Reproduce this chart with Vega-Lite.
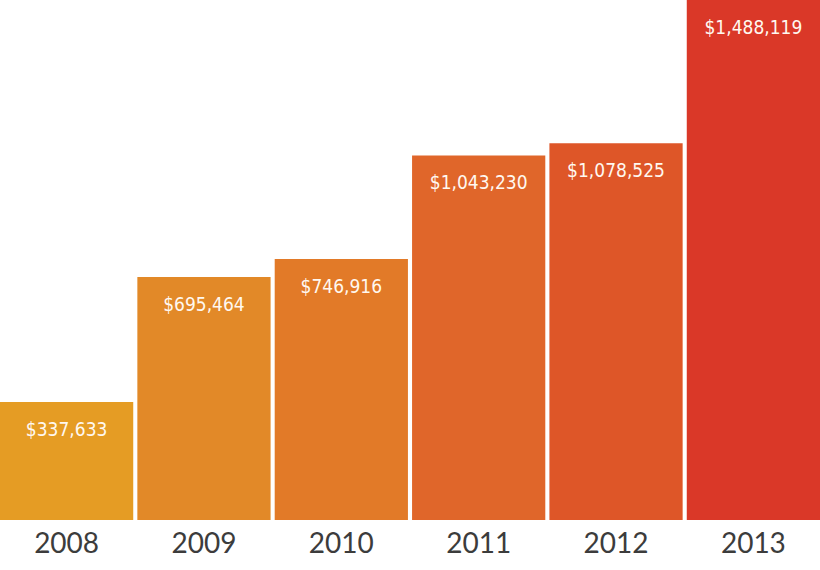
{
  "$schema": "https://vega.github.io/schema/vega-lite/v6.json",
  "width": 820,
  "height": 520,
  "padding": 0,
  "background": "#ffffff",
  "config": {"view": {"stroke": null}},
  "data": {"values": [
    {"year": "2008", "value": 337633, "label": "$337,633", "color": "#E59C24"},
    {"year": "2009", "value": 695464, "label": "$695,464", "color": "#E28928"},
    {"year": "2010", "value": 746916, "label": "$746,916", "color": "#E27A28"},
    {"year": "2011", "value": 1043230, "label": "$1,043,230", "color": "#E0662A"},
    {"year": "2012", "value": 1078525, "label": "$1,078,525", "color": "#DE5628"},
    {"year": "2013", "value": 1488119, "label": "$1,488,119", "color": "#DA3828"}
  ]},
  "encoding": {
    "x": {
      "field": "year", "type": "nominal",
      "scale": {"paddingInner": 0.03, "paddingOuter": 0},
      "axis": {"title": null, "domain": false, "ticks": false, "labelAngle": 0,
        "labelFont": "Lato", "labelFontWeight": 400, "labelFontSize": 28,
        "labelColor": "#3c3c3c", "labelPadding": 10}
    },
    "y": {
      "field": "value", "type": "quantitative",
      "scale": {"domain": [0, 1488119], "nice": false, "zero": true},
      "axis": null
    }
  },
  "layer": [
    {"mark": {"type": "bar"}, "encoding": {"color": {"field": "color", "type": "nominal", "scale": null}}},
    {"mark": {"type": "text", "dy": 28, "baseline": "middle", "align": "center",
      "font": "DejaVu Sans Condensed, Roboto Condensed, Liberation Sans Narrow, Roboto, sans-serif", "fontSize": 19, "color": "#fff8f0"},
     "encoding": {"text": {"field": "label"}}}
  ]
}
